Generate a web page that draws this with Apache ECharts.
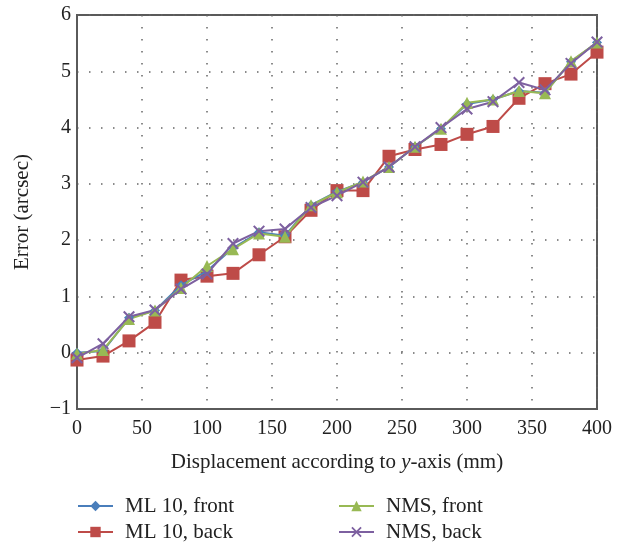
<!DOCTYPE html>
<html><head><meta charset="utf-8">
<script src="https://cdn.jsdelivr.net/npm/echarts@6/dist/echarts.min.js"></script>
<style>html,body{margin:0;padding:0;background:#fff}#c{width:626px;height:548px}</style>
</head><body><div id="c"></div>
<script>
const xValues = [0,20,40,60,80,100,120,140,160,180,200,220,240,260,280,300,320,340,360,380,400];
const ml10Front = [0.00,0.03,0.62,0.75,1.20,1.45,1.86,2.14,2.08,2.62,2.86,3.03,3.30,3.66,3.98,4.42,4.50,4.65,4.62,5.17,5.51];
const ml10Back  = [-0.13,-0.06,0.21,0.54,1.29,1.36,1.41,1.74,2.06,2.53,2.88,2.88,3.49,3.61,3.70,3.88,4.02,4.52,4.78,4.95,5.34];
const nmsFront  = [-0.02,0.05,0.60,0.75,1.15,1.54,1.84,2.12,2.06,2.62,2.85,3.04,3.30,3.66,3.98,4.44,4.50,4.65,4.61,5.18,5.51];
const nmsBack   = [-0.09,0.16,0.64,0.76,1.13,1.40,1.94,2.16,2.20,2.58,2.79,3.03,3.30,3.66,4.00,4.33,4.46,4.80,4.67,5.14,5.52];
const seriesNames = ['ML 10, front','ML 10, back','NMS, front','NMS, back'];
const xTicks = [0,50,100,150,200,250,300,350,400];
const yTicks = [-1,0,1,2,3,4,5,6];

const FONT = 'Liberation Serif';
const colors = ['#4A7EBB','#BE4B48','#98B954','#7D60A0'];
const crossPath = 'path://M0,1.2L1.2,0L5,3.8L8.8,0L10,1.2L6.2,5L10,8.8L8.8,10L5,6.2L1.2,10L0,8.8L3.8,5Z';
const symbols = ['diamond','rect',  'triangle', crossPath];
const sizes = [10,13,12,12];
const dataSets = [ml10Front, ml10Back, nmsFront, nmsBack];

const chart = echarts.init(document.getElementById('c'), null, {renderer:'canvas'});
const series = dataSets.map((d,i)=>({
  name: seriesNames[i],
  type:'line',
  data: xValues.map((x,j)=>[x,d[j]]),
  symbol: symbols[i],
  symbolSize: sizes[i],
  showAllSymbol: true,
  lineStyle:{color:colors[i],width:2},
  itemStyle:{color:colors[i]},
  emphasis:{disabled:true},
  animation:false,
  z: i===1 ? 2 : 3
}));
const legendCommon = {
  orient:'vertical', itemWidth:35, itemHeight:13, itemGap:2, padding:0, height:54,
  textStyle:{fontFamily:FONT,fontSize:21,lineHeight:24,color:'#222',padding:[0,0,0,7]},
  selectedMode:false
};
chart.setOption({
  animation:false,
  color: colors,
  grid:{left:77,right:29,top:15,bottom:139,show:true,borderColor:'#5a5a5a',borderWidth:2,containLabel:false},
  legend:[
    Object.assign({left:77,top:494,data:[seriesNames[0],seriesNames[1]]},legendCommon),
    Object.assign({left:338,top:494,data:[seriesNames[2],seriesNames[3]]},legendCommon)
  ],
  xAxis:{
    type:'value', min:xTicks[0], max:xTicks[xTicks.length-1], interval:50,
    name:'Displacement according to {i|y}-axis (mm)',
    nameLocation:'middle', nameGap:43,
    nameTextStyle:{fontFamily:FONT,fontSize:21,color:'#222',rich:{i:{fontFamily:FONT,fontSize:21,fontStyle:'italic',color:'#222'}}},
    axisLine:{show:true,onZero:false,lineStyle:{color:'#5a5a5a',width:2}},
    axisTick:{show:false},
    axisLabel:{fontFamily:FONT,fontSize:20,color:'#222',margin:10},
    splitLine:{show:true,lineStyle:{color:'#666',width:1.5,type:[1.5,10.5]}}
  },
  yAxis:{
    type:'value', min:yTicks[0], max:yTicks[yTicks.length-1], interval:1,
    name:'Error (arcsec)', nameLocation:'middle', nameGap:44,
    nameTextStyle:{fontFamily:FONT,fontSize:21,color:'#222'},
    axisLine:{show:true,onZero:false,lineStyle:{color:'#5a5a5a',width:2}},
    axisTick:{show:false},
    axisLabel:{fontFamily:FONT,fontSize:20,color:'#222',margin:6,formatter:v=>String(v).replace('-','\u2212')},
    splitLine:{show:true,lineStyle:{color:'#666',width:1.5,type:[1.5,10.5]}}
  },
  series: series
});
</script></body></html>
